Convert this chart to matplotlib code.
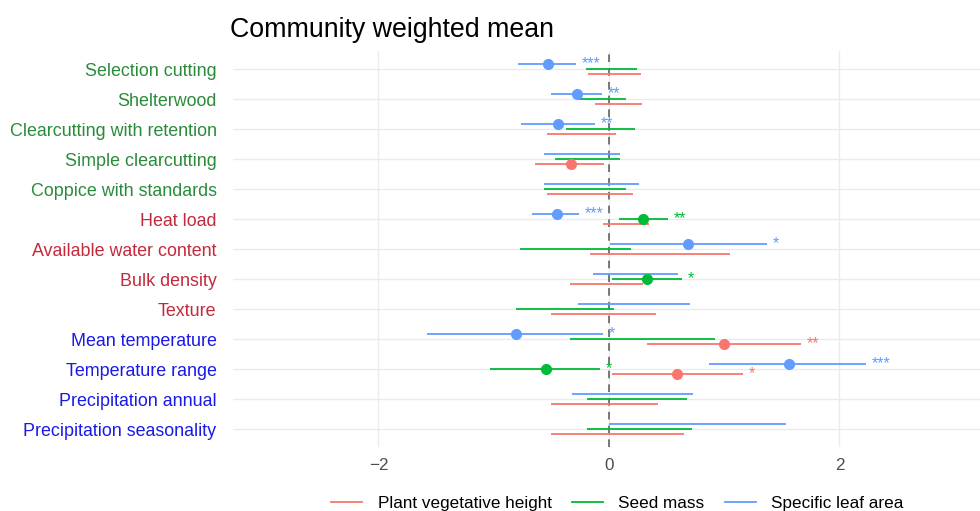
import numpy as np
import matplotlib.pyplot as plt
from matplotlib.lines import Line2D

plt.rcParams['font.family'] = ['Liberation Sans', 'DejaVu Sans']

predictors = ["Selection cutting", "Shelterwood", "Clearcutting with retention",
              "Simple clearcutting", "Coppice with standards", "Heat load",
              "Available water content", "Bulk density", "Texture",
              "Mean temperature", "Temperature range", "Precipitation annual",
              "Precipitation seasonality"]
label_group = ["forest"] * 5 + ["soil"] * 4 + ["climate"] * 4
group_colors = {"forest": "#2A8C3A", "soil": "#C42A3C", "climate": "#1A1AE6"}

traits = ["Plant vegetative height", "Seed mass", "Specific leaf area"]
trait_colors = ["#F8766D", "#00BA38", "#619CFF"]

# estimate (None = not significant, no point drawn), lower / upper CI, stars
height_est = [None, None, None, -0.33, None, None, None, None, None, 1.00, 0.59, None, None]
height_lo = [-0.18, -0.12, -0.54, -0.64, -0.54, -0.05, -0.16, -0.34, -0.50, 0.33, 0.03, -0.50, -0.50]
height_hi = [0.28, 0.29, 0.06, -0.04, 0.21, 0.35, 1.05, 0.30, 0.41, 1.67, 1.16, 0.43, 0.65]
height_sig = ["", "", "", "", "", "", "", "", "", "**", "*", "", ""]

seed_est = [None, None, None, None, None, 0.30, None, 0.33, None, None, -0.55, None, None]
seed_lo = [-0.20, -0.26, -0.37, -0.47, -0.56, 0.09, -0.77, 0.03, -0.81, -0.34, -1.03, -0.19, -0.19]
seed_hi = [0.24, 0.15, 0.23, 0.10, 0.15, 0.51, 0.19, 0.63, 0.04, 0.92, -0.08, 0.68, 0.72]
seed_sig = ["", "", "", "", "", "**", "", "*", "", "", "*", "", ""]

sla_est = [-0.53, -0.28, -0.44, None, None, -0.45, 0.69, None, None, -0.81, 1.56, None, None]
sla_lo = [-0.79, -0.50, -0.76, -0.56, -0.56, -0.67, 0.01, -0.14, -0.27, -1.58, 0.87, -0.32, 0.00]
sla_hi = [-0.29, -0.06, -0.12, 0.10, 0.26, -0.26, 1.37, 0.60, 0.70, -0.05, 2.23, 0.73, 1.54]
sla_sig = ["***", "**", "**", "", "", "***", "*", "", "", "*", "***", "", ""]

series = [(height_est, height_lo, height_hi, height_sig),
          (seed_est, seed_lo, seed_hi, seed_sig),
          (sla_est, sla_lo, sla_hi, sla_sig)]
dodge = [-1 / 6, 0, 1 / 6]

n = len(predictors)
ypos = np.arange(n)[::-1]

fig = plt.figure(figsize=(9.8, 5.11), dpi=100)
ax = fig.add_axes([0.238, 0.125, 0.762, 0.775])

for (est, lo, hi, sig), col, dy in zip(series, trait_colors, dodge):
    y = ypos + dy
    ax.hlines(y, lo, hi, color=col, lw=1.3, zorder=3)
    for yi, e, h, s in zip(y, est, hi, sig):
        if e is not None:
            ax.plot(e, yi, 'o', color=col, ms=7, zorder=4)
        if s:
            ax.text(h + 0.05, yi + 0.02, s, color=col, fontsize=11.5,
                    ha='left', va='center', zorder=4)

ax.axvline(0, color='#555555', ls=(0, (5, 4)), lw=1.1, zorder=2)

ax.set_xlim(-3.26, 3.22)
ax.set_ylim(-0.6, n - 0.4)
ax.set_xticks([-2, 0, 2])
ax.set_xticklabels(["\u22122", "0", "2"])
ax.set_yticks(ypos)
ax.set_yticklabels(predictors)
for lab, g in zip(ax.get_yticklabels(), label_group):
    lab.set_color(group_colors[g])
ax.tick_params(axis='y', length=0, labelsize=12.9, pad=12)
ax.tick_params(axis='x', length=0, labelsize=12.3, labelcolor='#4D4D4D', pad=8)
ax.grid(True, color='#EBEBEB', lw=1.0, zorder=0)
for sp in ax.spines.values():
    sp.set_visible(False)

ax.set_title("Community weighted mean", loc='left', fontsize=19.3, x=-0.005, pad=10)

handles = [Line2D([0], [0], color=c, lw=1.3) for c in trait_colors]
fig.legend(handles, traits, loc='lower center', bbox_to_anchor=(0.63, -0.03),
           ncol=3, frameon=False, fontsize=12.3, handlelength=1.8,
           columnspacing=1.2, handletextpad=0.9)

fig.savefig("out.png", dpi=100)
